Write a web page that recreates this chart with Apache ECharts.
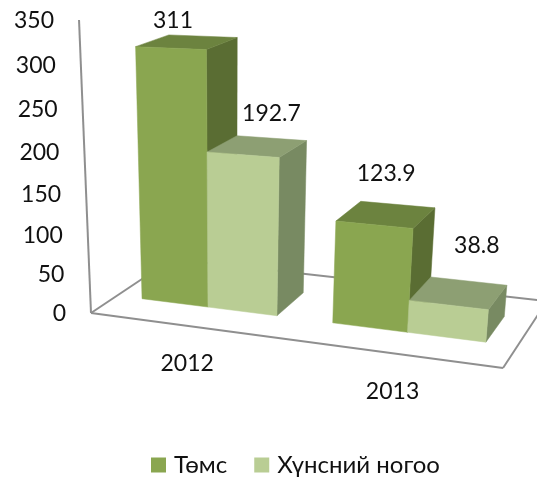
<!DOCTYPE html>
<html>
<head>
<meta charset="utf-8">
<style>
  html, body { margin: 0; padding: 0; background: #fff; }
  #chart { width: 537px; height: 481px; }
</style>
<script src="https://cdn.jsdelivr.net/npm/echarts@6/dist/echarts.min.js"></script>
</head>
<body>
<div id="chart"></div>
<script>
const categories = ['2012', '2013'];
const potato = [311, 123.9];
const vegetable = [192.7, 38.8];
const valueTicks = [0, 50, 100, 150, 200, 250, 300, 350];

const FONT = '23px Lato, "Noto Sans", sans-serif';
const TEXT_COLOR = '#111';
const FRAME_COLOR = '#8f8f8f';

// perspective of the Excel style 3d box, u = along categories, v = value, w = depth
function project(u, v, w) {
  const d = 1 - 0.1231 * u - 0.08 * v + 0.1131 * w;
  return [
    (350.1 * u - 18.3 * v + 100.45 * w + 91) / d,
    (9.7 * u - 294.6 * v - 24.7 * w + 313) / d
  ];
}

const BAR_FRONT = 0.3;
const BAR_BACK = 0.69;
const BAR_WIDTH = 0.36; // share of a category band

// label nudges from the centre of each bar top, the original has them placed by hand
const potatoShift = [[-14, -22], [0, -41]];
const vegetableShift = [[14, -33], [18, -47]];

function toUV(params, pt) {
  const cs = params.coordSys;
  return [(pt[0] - cs.x) / cs.width, (cs.y + cs.height - pt[1]) / cs.height];
}

function textEl(text, pos, align) {
  return {
    type: 'text',
    z2: 10,
    style: {
      text: text,
      x: pos[0],
      y: pos[1],
      fill: TEXT_COLOR,
      font: FONT,
      textAlign: align,
      textVerticalAlign: 'middle'
    }
  };
}

function face(points, fill) {
  return {
    type: 'polygon',
    shape: { points: points },
    style: { fill: fill, stroke: fill, lineWidth: 0.5 }
  };
}

function barSeries(name, values, side, colors, shifts) {
  return {
    name: name,
    type: 'custom',
    coordinateSystem: 'cartesian2d',
    itemStyle: { color: colors.front },
    data: values.map((v, i) => [i, v]),
    encode: { x: 0, y: 1 },
    renderItem: (params, api) => {
      const idx = api.value(0);
      const val = api.value(1);
      const band = api.size([1, 0])[0];
      const c = api.coord([idx, val]);
      const o = api.coord([idx, 0]);
      const [uc, v] = toUV(params, c);
      const du = BAR_WIDTH * band / params.coordSys.width;
      const u0 = side < 0 ? uc - du : uc;
      const u1 = side < 0 ? uc : uc + du;
      const base = toUV(params, o)[1];

      const fb0 = project(u0, base, BAR_FRONT);
      const fb1 = project(u1, base, BAR_FRONT);
      const bb1 = project(u1, base, BAR_BACK);
      const ft0 = project(u0, v, BAR_FRONT);
      const ft1 = project(u1, v, BAR_FRONT);
      const bt0 = project(u0, v, BAR_BACK);
      const bt1 = project(u1, v, BAR_BACK);

      const top = [
        (ft0[0] + ft1[0] + bt0[0] + bt1[0]) / 4,
        (ft0[1] + ft1[1] + bt0[1] + bt1[1]) / 4
      ];
      const shift = shifts[idx];

      return {
        type: 'group',
        children: [
          face([ft1, bt1, bb1, fb1], colors.side),
          face([ft0, bt0, bt1, ft1], colors.top),
          face([ft0, ft1, fb1, fb0], colors.front),
          textEl(String(val), [top[0] + shift[0], top[1] + shift[1]], 'center')
        ]
      };
    }
  };
}

function frameSeries() {
  return {
    type: 'custom',
    coordinateSystem: 'cartesian2d',
    silent: true,
    data: [[0, 0]],
    renderItem: () => {
      const line = (a, b) => ({
        type: 'line',
        shape: { x1: a[0], y1: a[1], x2: b[0], y2: b[1] },
        style: { stroke: FRAME_COLOR, lineWidth: 2 }
      });
      const o = project(0, 0, 0);
      const r = project(1, 0, 0);
      const rb = project(1, 0, 1);
      const b = project(0, 0, 1);
      return {
        type: 'group',
        children: [
          line(o, project(0, 1, 0)),
          line(o, r),
          line(r, rb),
          line(o, b),
          line(b, rb)
        ]
      };
    }
  };
}

function tickSeries() {
  return {
    type: 'custom',
    coordinateSystem: 'cartesian2d',
    silent: true,
    data: valueTicks.map(t => [0, t]),
    renderItem: (params, api) => {
      const v = toUV(params, api.coord([0, api.value(1)]))[1];
      const p = project(0, v, 0);
      return textEl(String(api.value(1)), [p[0] - 25, p[1] + 1], 'right');
    }
  };
}

function categorySeries() {
  return {
    type: 'custom',
    coordinateSystem: 'cartesian2d',
    silent: true,
    data: categories.map((c, i) => [i, 0]),
    renderItem: (params, api) => {
      const idx = api.value(0);
      const u = toUV(params, api.coord([idx, 0]))[0];
      const p = project(u, 0, 0);
      return textEl(categories[idx], [p[0] + 3, p[1] + 38.5], 'center');
    }
  };
}

const chart = echarts.init(document.getElementById('chart'));
chart.setOption({
  animation: false,
  backgroundColor: '#fff',
  grid: { left: 0, right: 0, top: 0, bottom: 0 },
  xAxis: { type: 'category', data: categories, show: false },
  yAxis: { type: 'value', min: 0, max: 350, show: false },
  legend: {
    left: 151,
    top: 453,
    padding: 0,
    itemWidth: 15,
    itemHeight: 15,
    itemGap: 27,
    icon: 'rect',
    data: ['Төмс', 'Хүнсний ногоо'],
    textStyle: {
      fontFamily: 'Lato, "Noto Sans", sans-serif',
      fontSize: 24,
      color: TEXT_COLOR,
      padding: [0, 0, 0, 3]
    }
  },
  series: [
    frameSeries(),
    tickSeries(),
    categorySeries(),
    barSeries('Төмс', potato, -1, { front: '#8aa650', top: '#6c833f', side: '#5a6d33' }, potatoShift),
    barSeries('Хүнсний ногоо', vegetable, 1, { front: '#b9cd94', top: '#8d9f73', side: '#788a62' }, vegetableShift)
  ]
});
</script>
</body>
</html>
